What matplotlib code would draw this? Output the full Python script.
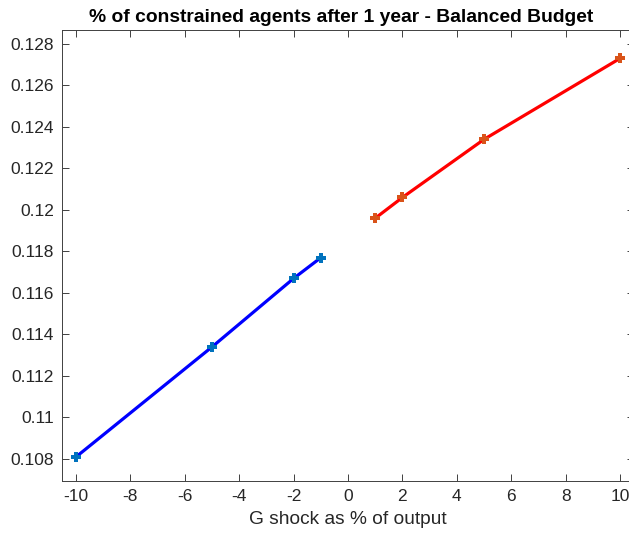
import matplotlib
matplotlib.use("Agg")
import matplotlib.pyplot as plt

plt.rcParams['font.family'] = ['Liberation Sans', 'DejaVu Sans']

# Government spending shocks (% of output) and resulting share of constrained agents
neg_shock = [-10, -5, -2, -1]
neg_share = [0.1081, 0.1134, 0.1167, 0.1177]
pos_shock = [1, 2, 5, 10]
pos_share = [0.1196, 0.1206, 0.1234, 0.1273]

x_ticks = [-10, -8, -6, -4, -2, 0, 2, 4, 6, 8, 10]
y_ticks = [0.108, 0.11, 0.112, 0.114, 0.116, 0.118, 0.12, 0.122, 0.124, 0.126, 0.128]
y_labels = ['0.108', '0.11', '0.112', '0.114', '0.116', '0.118', '0.12', '0.122', '0.124', '0.126', '0.128']

fig = plt.figure(figsize=(6.29, 5.40), dpi=100)
ax = fig.add_axes([62.4 / 629, 59 / 540, 571.2 / 629, 451 / 540])

ax.plot(neg_shock, neg_share, color='#0000FF', lw=2.3, zorder=2)
ax.plot(neg_shock, neg_share, ls='none', marker='P', ms=7.5, mew=0,
        color='#0072BD', zorder=3)
ax.plot(pos_shock, pos_share, color='#FF0000', lw=2.3, zorder=2)
ax.plot(pos_shock, pos_share, ls='none', marker='P', ms=7.5, mew=0,
        color='#D95319', zorder=3)

ax.set_xlim(-10.5, 10.5)
ax.set_ylim(0.10694, 0.12867)
ax.set_xticks(x_ticks)
ax.set_xticklabels([str(t) for t in x_ticks])
ax.set_yticks(y_ticks)
ax.set_yticklabels(y_labels)

edge = '#262626'
for s in ax.spines.values():
    s.set_color('#404040')
    s.set_linewidth(0.7)
ax.tick_params(direction='in', length=5, width=0.7, color='#404040',
               labelcolor=edge, labelsize=12.5, top=True, right=True, pad=6)

ax.set_xlabel('G shock as % of output', fontsize=13.75, color=edge, labelpad=5)
ax.set_title('% of constrained agents after 1 year - Balanced Budget',
             fontsize=13.9, fontweight='bold', color='black', pad=6)
ax.title.set_x(0.488)

fig.savefig('out.png', dpi=100)
